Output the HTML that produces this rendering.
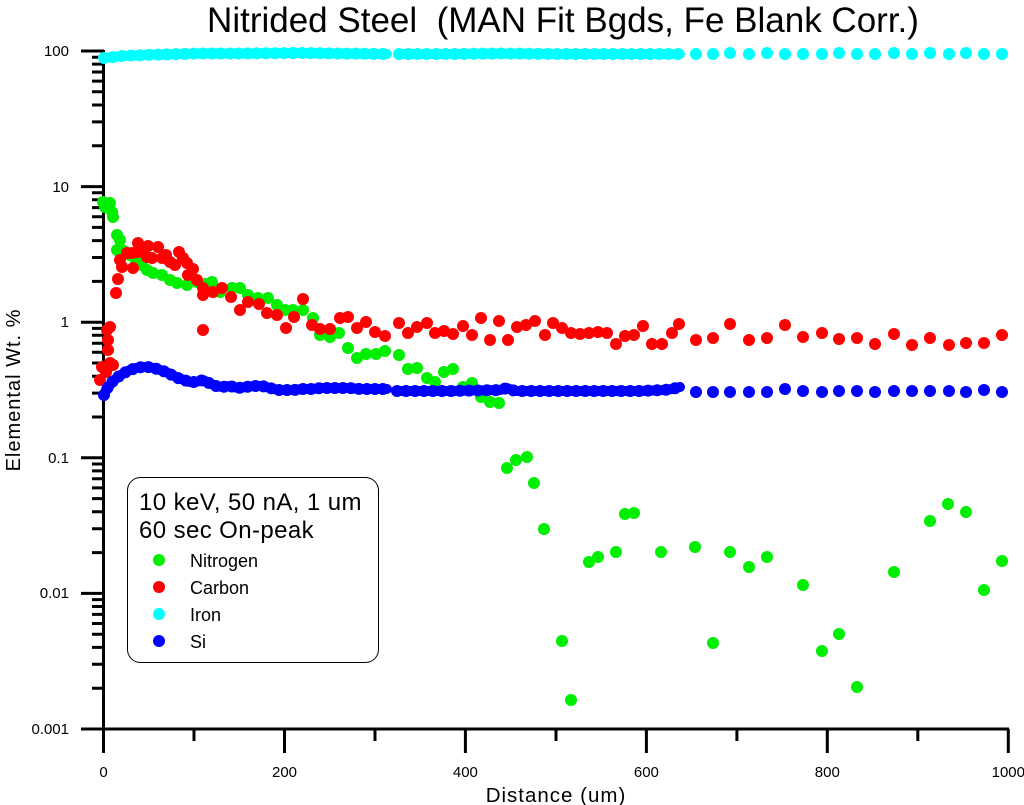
<!DOCTYPE html>
<html><head><meta charset="utf-8"><style>
html,body{margin:0;padding:0;background:#fff;}
svg{display:block;font-family:"Liberation Sans",Arial,sans-serif;}
</style></head><body>
<svg width="1024" height="805" viewBox="0 0 1024 805" xmlns="http://www.w3.org/2000/svg">
<rect width="1024" height="805" fill="#fff"/>
<text x="563" y="32" font-size="35" text-anchor="middle" fill="#000">Nitrided Steel&#160; (MAN Fit Bgds, Fe Blank Corr.)</text>
<text x="556" y="802" font-size="20.5" letter-spacing="1" text-anchor="middle" fill="#000">Distance (um)</text>
<text transform="translate(20,390) rotate(-90)" font-size="20" letter-spacing="1" text-anchor="middle" fill="#000">Elemental Wt. %</text>
<g stroke="#000" stroke-width="3" fill="none">
<line x1="103.5" y1="50" x2="103.5" y2="729"/>
<line x1="81" y1="729" x2="1009" y2="729"/>
<path d="M81 51H104M81 186.6H104M81 322.2H104M81 457.8H104M81 593.4H104"/>
<path d="M92 688.2H104M92 664.3H104M92 647.4H104M92 634.2H104M92 623.5H104M92 614.4H104M92 606.5H104M92 599.6H104
M92 552.6H104M92 528.7H104M92 511.8H104M92 498.6H104M92 487.9H104M92 478.8H104M92 470.9H104M92 464H104
M92 417H104M92 393.1H104M92 376.2H104M92 363H104M92 352.3H104M92 343.2H104M92 335.3H104M92 328.4H104
M92 281.4H104M92 257.5H104M92 240.6H104M92 227.4H104M92 216.7H104M92 207.6H104M92 199.7H104M92 192.8H104
M92 145.8H104M92 121.9H104M92 105H104M92 91.8H104M92 81.1H104M92 72H104M92 64.1H104M92 57.2H104"/>
<path d="M103.5 729V753M284.5 729V753M465.4 729V753M646.4 729V753M827.3 729V753M1008.3 729V753"/>
<path d="M194 729V741M375 729V741M556 729V741M736.9 729V741M917.8 729V741"/>
</g>
<g font-size="15" fill="#000" text-anchor="end">
<text x="69" y="56">100</text>
<text x="69" y="192">10</text>
<text x="69" y="327">1</text>
<text x="69" y="463">0.1</text>
<text x="69" y="598">0.01</text>
<text x="69" y="734">0.001</text>
</g>
<g font-size="15" fill="#000" text-anchor="middle">
<text x="103.5" y="777">0</text>
<text x="284.5" y="777">200</text>
<text x="465.4" y="777">400</text>
<text x="646.4" y="777">600</text>
<text x="827.3" y="777">800</text>
<text x="1008.3" y="777">1000</text>
</g>

<!-- Nitrogen -->
<g fill="#00ee00">
<circle cx="103" cy="202" r="6"/><circle cx="105" cy="207" r="6"/><circle cx="108" cy="205" r="6"/><circle cx="110" cy="203" r="6"/><circle cx="112" cy="212" r="6"/><circle cx="113" cy="217" r="6"/><circle cx="117" cy="235" r="6"/><circle cx="120" cy="240" r="6"/><circle cx="117" cy="250" r="6"/><circle cx="122" cy="250" r="6"/><circle cx="126" cy="252" r="6"/><circle cx="130" cy="255" r="6"/><circle cx="136" cy="260" r="6"/><circle cx="142" cy="265" r="6"/><circle cx="147" cy="270" r="6"/><circle cx="153" cy="273" r="6"/><circle cx="162" cy="275" r="6"/><circle cx="170" cy="280" r="6"/><circle cx="177" cy="283" r="6"/><circle cx="187" cy="285" r="6"/><circle cx="197" cy="282" r="6"/><circle cx="205" cy="284" r="6"/><circle cx="212" cy="282" r="6"/><circle cx="220" cy="292" r="6"/><circle cx="232" cy="288" r="6"/><circle cx="240" cy="288" r="6"/><circle cx="248" cy="295" r="6"/><circle cx="258" cy="298" r="6"/><circle cx="268" cy="298" r="6"/><circle cx="277" cy="305" r="6"/><circle cx="285" cy="310" r="6"/><circle cx="293" cy="310" r="6"/><circle cx="303" cy="310" r="6"/><circle cx="313" cy="318" r="6"/><circle cx="320" cy="335" r="6"/><circle cx="330" cy="337" r="6"/><circle cx="339" cy="333" r="6"/><circle cx="348" cy="348" r="6"/><circle cx="357" cy="358" r="6"/><circle cx="366" cy="354" r="6"/><circle cx="376" cy="354" r="6"/><circle cx="385" cy="351" r="6"/><circle cx="399" cy="355" r="6"/><circle cx="408" cy="369" r="6"/><circle cx="417" cy="368" r="6"/><circle cx="427" cy="378" r="6"/><circle cx="435" cy="382" r="6"/><circle cx="444" cy="372" r="6"/><circle cx="453" cy="369" r="6"/><circle cx="463" cy="387" r="6"/><circle cx="472" cy="383" r="6"/><circle cx="481" cy="397" r="6"/><circle cx="490" cy="402" r="6"/><circle cx="499" cy="403" r="6"/>
<circle cx="507" cy="468" r="6"/><circle cx="516" cy="460" r="6"/><circle cx="527" cy="457" r="6"/><circle cx="534" cy="483" r="6"/><circle cx="544" cy="529" r="6"/><circle cx="562" cy="641" r="6"/><circle cx="571" cy="700" r="6"/><circle cx="589" cy="562" r="6"/><circle cx="598" cy="557" r="6"/><circle cx="616" cy="552" r="6"/><circle cx="625" cy="514" r="6"/><circle cx="634" cy="513" r="6"/><circle cx="661" cy="552" r="6"/><circle cx="695" cy="547" r="6"/><circle cx="713" cy="643" r="6"/><circle cx="730" cy="552" r="6"/><circle cx="749" cy="567" r="6"/><circle cx="767" cy="557" r="6"/><circle cx="803" cy="585" r="6"/><circle cx="822" cy="651" r="6"/><circle cx="839" cy="634" r="6"/><circle cx="857" cy="687" r="6"/><circle cx="894" cy="572" r="6"/><circle cx="930" cy="521" r="6"/><circle cx="948" cy="504" r="6"/><circle cx="966" cy="512" r="6"/><circle cx="984" cy="590" r="6"/><circle cx="1002" cy="561" r="6"/>
</g>

<!-- Carbon -->
<g fill="#ff0000">
<circle cx="102" cy="367" r="6"/><circle cx="100" cy="380" r="6"/><circle cx="106" cy="372" r="6"/><circle cx="110" cy="363" r="6"/><circle cx="113" cy="365" r="6"/><circle cx="108" cy="350" r="6"/><circle cx="108" cy="340" r="6"/><circle cx="110" cy="327" r="6"/><circle cx="107" cy="330" r="6"/><circle cx="116" cy="293" r="6"/><circle cx="118" cy="279" r="6"/><circle cx="120" cy="260" r="6"/><circle cx="122" cy="267" r="6"/><circle cx="127" cy="253" r="6"/><circle cx="133" cy="268" r="6"/><circle cx="132" cy="253" r="6"/><circle cx="138" cy="243" r="6"/><circle cx="138" cy="252" r="6"/><circle cx="143" cy="250" r="6"/><circle cx="148" cy="246" r="6"/><circle cx="147" cy="257" r="6"/><circle cx="152" cy="258" r="6"/><circle cx="158" cy="247" r="6"/><circle cx="162" cy="258" r="6"/><circle cx="166" cy="255" r="6"/><circle cx="170" cy="262" r="6"/><circle cx="175" cy="265" r="6"/><circle cx="179" cy="252" r="6"/><circle cx="183" cy="258" r="6"/><circle cx="187" cy="263" r="6"/><circle cx="193" cy="269" r="6"/><circle cx="188" cy="275" r="6"/><circle cx="197" cy="280" r="6"/><circle cx="203" cy="288" r="6"/><circle cx="203" cy="295" r="6"/><circle cx="203" cy="330" r="6"/><circle cx="213" cy="292" r="6"/><circle cx="222" cy="288" r="6"/><circle cx="231" cy="297" r="6"/><circle cx="240" cy="310" r="6"/><circle cx="248" cy="302" r="6"/><circle cx="259" cy="304" r="6"/><circle cx="267" cy="313" r="6"/><circle cx="277" cy="315" r="6"/><circle cx="286" cy="328" r="6"/><circle cx="294" cy="317" r="6"/><circle cx="303" cy="299" r="6"/><circle cx="312" cy="325" r="6"/><circle cx="320" cy="329" r="6"/><circle cx="330" cy="329" r="6"/><circle cx="340" cy="318" r="6"/><circle cx="348" cy="317" r="6"/><circle cx="357" cy="328" r="6"/><circle cx="366" cy="322" r="6"/><circle cx="375" cy="332" r="6"/><circle cx="385" cy="336" r="6"/><circle cx="399" cy="323" r="6"/><circle cx="408" cy="333" r="6"/><circle cx="417" cy="327" r="6"/><circle cx="427" cy="323" r="6"/><circle cx="435" cy="333" r="6"/><circle cx="444" cy="331" r="6"/><circle cx="453" cy="334" r="6"/><circle cx="463" cy="326" r="6"/><circle cx="472" cy="335" r="6"/><circle cx="481" cy="318" r="6"/><circle cx="490" cy="340" r="6"/><circle cx="499" cy="321" r="6"/><circle cx="508" cy="340" r="6"/><circle cx="517" cy="327" r="6"/><circle cx="526" cy="325" r="6"/><circle cx="535" cy="321" r="6"/><circle cx="545" cy="335" r="6"/><circle cx="553" cy="323" r="6"/><circle cx="562" cy="328" r="6"/><circle cx="571" cy="333" r="6"/><circle cx="580" cy="334" r="6"/><circle cx="589" cy="333" r="6"/><circle cx="598" cy="332" r="6"/><circle cx="607" cy="333" r="6"/><circle cx="616" cy="344" r="6"/><circle cx="625" cy="336" r="6"/><circle cx="634" cy="335" r="6"/><circle cx="643" cy="326" r="6"/><circle cx="652" cy="344" r="6"/><circle cx="662" cy="344" r="6"/><circle cx="672" cy="333" r="6"/><circle cx="679" cy="324" r="6"/>
<circle cx="696" cy="340" r="6"/><circle cx="713" cy="338" r="6"/><circle cx="730" cy="324" r="6"/><circle cx="749" cy="340" r="6"/><circle cx="767" cy="338" r="6"/><circle cx="785" cy="325" r="6"/><circle cx="803" cy="337" r="6"/><circle cx="822" cy="333" r="6"/><circle cx="839" cy="339" r="6"/><circle cx="857" cy="338" r="6"/><circle cx="875" cy="344" r="6"/><circle cx="894" cy="334" r="6"/><circle cx="912" cy="345" r="6"/><circle cx="930" cy="338" r="6"/><circle cx="949" cy="345" r="6"/><circle cx="966" cy="343" r="6"/><circle cx="984" cy="343" r="6"/><circle cx="1002" cy="335" r="6"/>
</g>

<!-- Iron -->
<g stroke="#00ffff" fill="none" stroke-linecap="round" stroke-linejoin="round">
<polyline stroke-width="10" points="104,58 108,57.5 114,57 122,56 132,55.5 145,55 160,54.5 180,54 200,53.5 240,53.5 300,53 340,53.5 387,54"/>
<polyline stroke-width="12" stroke-dasharray="0 9" points="104,58 108,57.5 114,57 122,56 132,55.5 145,55 160,54.5 180,54 200,53.5 240,53.5 300,53 340,53.5 387,54"/>
<polyline stroke-width="10" points="399,54 450,54 500,53.5 560,54 620,54 680,54"/>
<polyline stroke-width="12" stroke-dasharray="0 9.3" points="399,54 450,54 500,53.5 560,54 620,54 680,54"/>
</g>
<g fill="#00ffff">
<circle cx="696" cy="54" r="6"/><circle cx="713" cy="54" r="6"/><circle cx="730" cy="53" r="6"/><circle cx="749" cy="54" r="6"/><circle cx="767" cy="53" r="6"/><circle cx="785" cy="54" r="6"/><circle cx="803" cy="54" r="6"/><circle cx="822" cy="54" r="6"/><circle cx="839" cy="53" r="6"/><circle cx="857" cy="54" r="6"/><circle cx="875" cy="54" r="6"/><circle cx="894" cy="53" r="6"/><circle cx="912" cy="54" r="6"/><circle cx="930" cy="53" r="6"/><circle cx="949" cy="54" r="6"/><circle cx="966" cy="53" r="6"/><circle cx="984" cy="54" r="6"/><circle cx="1002" cy="54" r="6"/>
</g>

<!-- Si -->
<g stroke="#0000ff" fill="none" stroke-linecap="round" stroke-linejoin="round">
<polyline stroke-width="10" points="104,395 106,390 109,386 113,381 118,377 124,373 130,370 136,368 142,367 148,367 154,368 160,370 166,372 172,375 178,378 184,380 190,382 196,382 203,380 209,383 216,386 222,387 230,386 238,388 246,387 254,386 262,386 270,388 278,390 286,390 294,390 302,389 312,389 322,388 332,388 340,388 350,388 360,389 370,389 378,389 387,389"/>
<polyline stroke-width="12" stroke-dasharray="0 8" points="104,395 106,390 109,386 113,381 118,377 124,373 130,370 136,368 142,367 148,367 154,368 160,370 166,372 172,375 178,378 184,380 190,382 196,382 203,380 209,383 216,386 222,387 230,386 238,388 246,387 254,386 262,386 270,388 278,390 286,390 294,390 302,389 312,389 322,388 332,388 340,388 350,388 360,389 370,389 378,389 387,389"/>
<polyline stroke-width="10" points="397,391 450,391 500,390 507,388 515,391 640,391 664,390 672,389 680,387"/>
<polyline stroke-width="12" stroke-dasharray="0 9" points="397,391 450,391 500,390 507,388 515,391 640,391 664,390 672,389 680,387"/>
</g>
<g fill="#0000ff">
<circle cx="696" cy="392" r="6"/><circle cx="713" cy="392" r="6"/><circle cx="730" cy="392" r="6"/><circle cx="749" cy="392" r="6"/><circle cx="767" cy="392" r="6"/><circle cx="785" cy="389" r="6"/><circle cx="803" cy="391" r="6"/><circle cx="822" cy="392" r="6"/><circle cx="839" cy="391" r="6"/><circle cx="857" cy="391" r="6"/><circle cx="875" cy="392" r="6"/><circle cx="894" cy="391" r="6"/><circle cx="912" cy="391" r="6"/><circle cx="930" cy="391" r="6"/><circle cx="949" cy="391" r="6"/><circle cx="966" cy="392" r="6"/><circle cx="984" cy="390" r="6"/><circle cx="1002" cy="392" r="6"/>
</g>

<!-- Legend -->
<rect x="127.5" y="477.5" width="251" height="185" rx="13" ry="13" fill="#fff" stroke="#000" stroke-width="1"/>
<g fill="#000">
<text x="139" y="510" font-size="24" letter-spacing="0.4">10 keV, 50 nA, 1 um</text>
<text x="139" y="538" font-size="24" letter-spacing="0.4">60 sec On-peak</text>
<text x="190" y="567" font-size="18">Nitrogen</text>
<text x="190" y="594" font-size="18">Carbon</text>
<text x="190" y="621" font-size="18">Iron</text>
<text x="190" y="648" font-size="18">Si</text>
</g>
<circle cx="159" cy="560" r="6" fill="#00ee00"/>
<circle cx="159" cy="587" r="6" fill="#ff0000"/>
<circle cx="159" cy="614" r="6" fill="#00ffff"/>
<circle cx="159" cy="641" r="6" fill="#0000ff"/>
</svg>
</body></html>
